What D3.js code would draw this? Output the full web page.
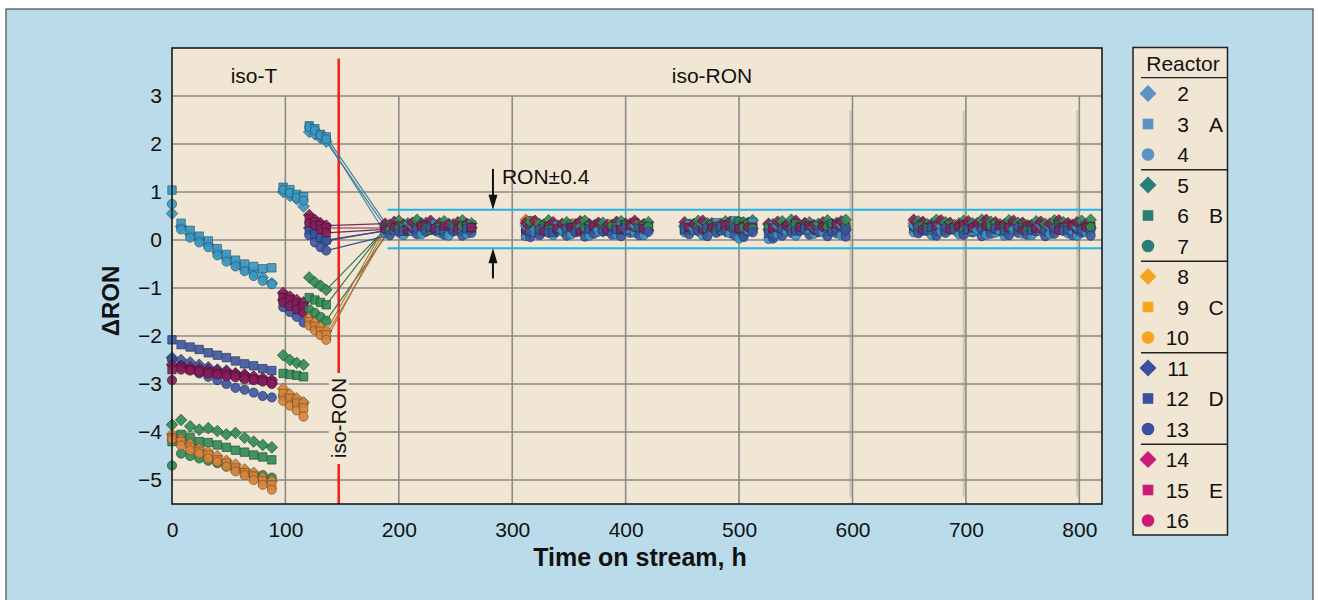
<!DOCTYPE html>
<html><head><meta charset="utf-8">
<script src="https://cdn.jsdelivr.net/npm/d3@7"></script>
<style>html,body{margin:0;padding:0;background:#fff;} svg{display:block;font-family:"Liberation Sans",Arial,Helvetica,sans-serif;}</style>
</head><body><svg id="c" width="1319" height="600"></svg>
<script>
// ---------------- DATA ----------------
const reactors = ["2","3","4","5","6","7","8","9","10","11","12","13","14","15","16"];
const groupOf  = ["A","A","A","B","B","B","C","C","C","D","D","D","E","E","E"];
const shapeOf  = ["diamond","square","circle","diamond","square","circle","diamond","square","circle","diamond","square","circle","diamond","square","circle"];
const scheduleOf = [0,1,0,1,0,1,0,1,0,1,0,1,0,1,0];   // which iso-RON sampling schedule each reactor used
const groups = ["A","B","C","D","E"];
const xTicks = [0,100,200,300,400,500,600,700,800];
const yTicks = [-5,-4,-3,-2,-1,0,1,2,3];
const xDomain = [0,820];
const yDomain = [-5.5,4];
const switchTime = 147;          // iso-T -> iso-RON
const ronBand = [-0.17, 0.63];   // RON ±0.4 band
const bandStart = 190;
const arrowTime = 283;
const upperArrow = [1.48, 0.63];
const lowerArrow = [-0.8, -0.17];

// iso-T period sampling times (h)
const tIsoT = [0,8,16,24,32,40,48,56,64,72,80,88, 98,104,110,116, 121,126,131,136];
// iso-RON period sampling times (h), two schedules, by campaign block
const tRonA = [
  [188,196,204,212,220,228,236,244,252,260],
  [312,320,328,336,344,352,360,368,376,384,392,400,408,416],
  [452,460,468,476,484,492,500,508],
  [526,534,542,550,558,566,574,582,590],
  [654,662,670,678,686,694,702,710,718,726,734,742,750,758,766,774,782,790,798,806]
];
const tRonB = [
  [192,200,208,216,224,232,240,248,256,264],
  [316,324,332,340,348,356,364,372,380,388,396,404,412,420],
  [456,464,472,480,488,496,504,512],
  [530,538,546,554,562,570,578,586,594],
  [658,666,674,682,690,698,706,714,722,730,738,746,754,762,770,778,786,794,802,810]
];

// ΔRON during iso-T
const r2T  = [0.55,0.28,0.12,0.02,-0.10,-0.25,-0.38,-0.50,-0.60,-0.68,-0.78,-0.90, 1.00,0.92,0.85,0.70, 2.25,2.20,2.12,2.05];
const r3T  = [1.04,0.35,0.20,0.08,-0.02,-0.18,-0.30,-0.42,-0.50,-0.55,-0.60,-0.58, 1.10,1.05,0.95,0.90, 2.38,2.32,2.20,2.15];
const r4T  = [0.75,0.22,0.05,-0.05,-0.15,-0.32,-0.45,-0.55,-0.65,-0.75,-0.85,-0.92, 1.05,0.98,0.88,0.82, 2.35,2.28,2.18,2.10];
const r5T  = [-3.85,-3.75,-3.88,-3.95,-3.92,-3.98,-4.05,-4.02,-4.12,-4.20,-4.27,-4.32, -2.40,-2.50,-2.56,-2.60, -0.78,-0.88,-0.95,-1.04];
const r6T  = [-4.20,-4.05,-4.12,-4.20,-4.22,-4.27,-4.32,-4.38,-4.42,-4.48,-4.52,-4.58, -2.78,-2.80,-2.82,-2.85, -1.20,-1.25,-1.30,-1.35];
const r7T  = [-4.70,-4.45,-4.50,-4.55,-4.60,-4.65,-4.72,-4.78,-4.82,-4.88,-4.90,-4.95, -3.25,-3.30,-3.35,-3.40, -1.45,-1.52,-1.60,-1.68];
const r8T  = [-4.05,-4.15,-4.25,-4.35,-4.42,-4.50,-4.60,-4.68,-4.78,-4.85,-4.95,-5.02, -3.10,-3.22,-3.30,-3.38, -1.62,-1.72,-1.82,-1.90];
const r9T  = [-4.12,-4.20,-4.32,-4.40,-4.48,-4.58,-4.65,-4.75,-4.85,-4.92,-5.02,-5.10, -3.20,-3.30,-3.40,-3.50, -1.70,-1.80,-1.90,-1.98];
const r10T = [-4.15,-4.28,-4.38,-4.45,-4.55,-4.62,-4.72,-4.82,-4.90,-5.00,-5.10,-5.20, -3.35,-3.45,-3.55,-3.68, -1.78,-1.88,-1.98,-2.08];
const r11T = [-2.45,-2.50,-2.55,-2.60,-2.65,-2.70,-2.72,-2.78,-2.82,-2.88,-2.92,-2.98, -1.25,-1.35,-1.42,-1.50, 0.25,0.15,0.05,-0.02];
const r12T = [-2.08,-2.18,-2.23,-2.28,-2.35,-2.40,-2.45,-2.52,-2.58,-2.62,-2.68,-2.72, -1.15,-1.22,-1.30,-1.38, 0.20,0.12,0.05,0.00];
const r13T = [-2.50,-2.62,-2.70,-2.78,-2.85,-2.92,-3.00,-3.08,-3.12,-3.18,-3.25,-3.28, -1.40,-1.50,-1.60,-1.72, 0.10,-0.05,-0.15,-0.22];
const r14T = [-2.60,-2.62,-2.65,-2.68,-2.70,-2.72,-2.75,-2.78,-2.80,-2.84,-2.88,-2.92, -1.10,-1.18,-1.25,-1.30, 0.52,0.42,0.35,0.30];
const r15T = [-2.70,-2.65,-2.70,-2.72,-2.75,-2.78,-2.80,-2.82,-2.86,-2.90,-2.92,-2.95, -1.20,-1.25,-1.32,-1.38, 0.45,0.38,0.30,0.25];
const r16T = [-2.92,-2.70,-2.72,-2.75,-2.78,-2.80,-2.84,-2.86,-2.90,-2.92,-2.95,-3.00, -1.30,-1.38,-1.45,-1.52, 0.35,0.30,0.22,0.15];

// ΔRON during iso-RON
const r2R = [[0.28,0.32,0.24,0.30,0.35,0.27,0.22,0.31,0.26,0.29],
 [0.30,0.22,0.18,0.26,0.20,0.30,0.24,0.28,0.21,0.32,0.25,0.22,0.30,0.27],
 [0.28,0.25,0.34,0.30,0.22,0.36,0.38,0.28],
 [0.22,0.30,0.26,0.31,0.35,0.27,0.30,0.24,0.32],
 [0.30,0.34,0.26,0.29,0.23,0.31,0.27,0.21,0.29,0.26,0.31,0.23,0.28,0.25,0.31,0.27,0.23,0.29,0.26,0.33]];
const r3R = [[0.22,0.26,0.30,0.21,0.27,0.33,0.24,0.28,0.20,0.26],
 [0.26,0.14,0.24,0.30,0.17,0.25,0.20,0.31,0.26,0.19,0.29,0.23,0.18,0.24],
 [0.32,0.28,0.24,0.36,0.30,0.40,0.26,0.37],
 [0.30,0.24,0.20,0.27,0.22,0.32,0.25,0.28,0.21],
 [0.26,0.22,0.30,0.20,0.27,0.24,0.18,0.26,0.22,0.20,0.25,0.19,0.24,0.28,0.21,0.23,0.27,0.20,0.24,0.22]];
const r4R = [[0.14,0.22,0.10,0.18,0.12,0.24,0.15,0.09,0.20,0.13],
 [0.08,0.16,0.22,0.10,0.18,0.12,0.24,0.09,0.17,0.21,0.11,0.23,0.15,0.10],
 [0.16,0.22,0.10,0.19,0.24,0.14,0.03,0.20],
 [0.02,0.12,0.18,0.09,0.21,0.13,0.16,0.22,0.10],
 [0.16,0.21,0.10,0.18,0.23,0.12,0.17,0.22,0.11,0.15,0.09,0.20,0.13,0.10,0.18,0.12,0.21,0.14,0.09,0.17]];
const r5R = [[0.32,0.40,0.35,0.42,0.36,0.30,0.39,0.33,0.41,0.35],
 [0.38,0.33,0.41,0.30,0.37,0.32,0.40,0.29,0.36,0.31,0.39,0.34,0.30,0.37],
 [0.32,0.40,0.35,0.30,0.39,0.33,0.37,0.41],
 [0.33,0.39,0.42,0.30,0.37,0.34,0.41,0.36,0.42],
 [0.39,0.33,0.42,0.37,0.31,0.40,0.35,0.42,0.38,0.33,0.41,0.36,0.31,0.39,0.34,0.41,0.37,0.32,0.40,0.42]];
const r6R = [[0.24,0.20,0.27,0.23,0.29,0.21,0.26,0.31,0.23,0.28],
 [0.20,0.26,0.30,0.22,0.28,0.33,0.25,0.29,0.34,0.23,0.27,0.31,0.36,0.28],
 [0.24,0.21,0.28,0.32,0.26,0.23,0.38,0.33],
 [0.26,0.21,0.29,0.33,0.25,0.30,0.27,0.34,0.36],
 [0.24,0.29,0.21,0.27,0.32,0.24,0.22,0.30,0.26,0.33,0.23,0.28,0.31,0.22,0.27,0.24,0.30,0.25,0.29,0.23]];
const r7R = [[0.20,0.24,0.18,0.26,0.22,0.28,0.19,0.24,0.29,0.22],
 [0.18,0.24,0.20,0.28,0.22,0.17,0.26,0.21,0.25,0.30,0.20,0.26,0.22,0.28],
 [0.20,0.27,0.23,0.19,0.28,0.22,0.26,0.24],
 [0.18,0.25,0.21,0.27,0.19,0.24,0.28,0.22,0.26],
 [0.20,0.25,0.29,0.22,0.26,0.19,0.27,0.23,0.30,0.21,0.26,0.22,0.19,0.27,0.23,0.29,0.20,0.25,0.22,0.27]];
const r8R = [[0.30,0.26,0.33,0.29,0.24,0.31,0.27,0.34,0.28,0.25],
 [0.42,0.36,0.30,0.34,0.27,0.32,0.29,0.24,0.31,0.28,0.34,0.26,0.30,0.33],
 [0.30,0.26,0.32,0.28,0.34,0.25,0.30,0.27],
 [0.32,0.27,0.30,0.25,0.33,0.29,0.26,0.31,0.28],
 [0.36,0.31,0.27,0.33,0.29,0.35,0.26,0.32,0.28,0.34,0.30,0.26,0.33,0.29,0.25,0.32,0.28,0.34,0.30,0.27]];
const r9R = [[0.27,0.31,0.25,0.29,0.33,0.26,0.30,0.24,0.28,0.32],
 [0.40,0.33,0.28,0.25,0.31,0.35,0.27,0.30,0.26,0.33,0.29,0.25,0.31,0.28],
 [0.34,0.29,0.26,0.31,0.27,0.33,0.29,0.25],
 [0.29,0.33,0.26,0.30,0.27,0.32,0.29,0.25,0.30],
 [0.30,0.26,0.33,0.28,0.31,0.25,0.29,0.34,0.27,0.31,0.24,0.28,0.32,0.26,0.30,0.35,0.27,0.31,0.26,0.29]];
const r10R = [[0.23,0.27,0.21,0.26,0.30,0.24,0.28,0.22,0.26,0.29],
 [0.36,0.28,0.24,0.30,0.22,0.27,0.31,0.24,0.28,0.22,0.26,0.30,0.25,0.23],
 [0.27,0.23,0.30,0.25,0.29,0.22,0.27,0.31],
 [0.24,0.28,0.22,0.27,0.31,0.25,0.23,0.28,0.26],
 [0.27,0.23,0.30,0.25,0.21,0.28,0.24,0.31,0.26,0.22,0.29,0.25,0.28,0.23,0.27,0.30,0.24,0.22,0.28,0.25]];
const r11R = [[0.21,0.25,0.30,0.23,0.27,0.20,0.24,0.28,0.22,0.26],
 [0.16,0.22,0.27,0.19,0.25,0.30,0.21,0.26,0.18,0.24,0.29,0.22,0.26,0.20],
 [0.25,0.20,0.28,0.23,0.18,0.27,0.10,0.24],
 [0.10,0.22,0.27,0.20,0.25,0.18,0.29,0.23,0.21],
 [0.29,0.24,0.20,0.27,0.23,0.18,0.26,0.22,0.28,0.20,0.24,0.27,0.21,0.25,0.19,0.26,0.23,0.28,0.21,0.25]];
const r12R = [[0.19,0.23,0.18,0.25,0.21,0.27,0.20,0.24,0.19,0.23],
 [0.10,0.18,0.23,0.16,0.21,0.26,0.19,0.23,0.28,0.18,0.22,0.25,0.19,0.24],
 [0.21,0.26,0.19,0.24,0.28,0.20,0.23,0.18],
 [0.14,0.20,0.25,0.19,0.23,0.27,0.21,0.18,0.24],
 [0.23,0.19,0.26,0.21,0.24,0.18,0.22,0.27,0.20,0.24,0.19,0.23,0.26,0.20,0.22,0.18,0.25,0.21,0.19,0.23]];
const r13R = [[0.10,0.16,0.20,0.12,0.17,0.22,0.11,0.18,0.09,0.15],
 [0.06,0.10,0.15,0.20,0.09,0.16,0.07,0.13,0.19,0.11,0.08,0.15,0.10,0.17],
 [0.12,0.18,0.08,0.15,0.20,0.10,0.06,0.16],
 [0.03,0.09,0.15,0.20,0.11,0.17,0.08,0.14,0.07],
 [0.14,0.19,0.09,0.15,0.21,0.11,0.16,0.08,0.13,0.20,0.10,0.15,0.11,0.18,0.08,0.13,0.19,0.10,0.15,0.09]];
const r14R = [[0.34,0.38,0.31,0.36,0.33,0.40,0.35,0.32,0.37,0.34],
 [0.36,0.40,0.32,0.37,0.34,0.30,0.39,0.33,0.36,0.31,0.38,0.34,0.40,0.32],
 [0.37,0.33,0.40,0.35,0.31,0.38,0.34,0.36],
 [0.34,0.38,0.32,0.40,0.35,0.31,0.37,0.33,0.39],
 [0.42,0.38,0.34,0.41,0.36,0.32,0.39,0.35,0.42,0.37,0.33,0.40,0.36,0.31,0.38,0.34,0.41,0.35,0.37,0.33]];
const r15R = [[0.25,0.29,0.22,0.27,0.31,0.24,0.28,0.23,0.30,0.26],
 [0.24,0.20,0.28,0.23,0.30,0.26,0.21,0.29,0.24,0.27,0.22,0.30,0.25,0.28],
 [0.26,0.30,0.23,0.28,0.32,0.25,0.29,0.27],
 [0.25,0.29,0.22,0.27,0.30,0.24,0.28,0.32,0.26],
 [0.31,0.26,0.29,0.23,0.27,0.32,0.25,0.28,0.24,0.30,0.26,0.22,0.29,0.25,0.31,0.24,0.27,0.30,0.23,0.28]];
const r16R = [[0.22,0.26,0.20,0.24,0.28,0.21,0.25,0.29,0.23,0.27],
 [0.20,0.24,0.19,0.27,0.22,0.26,0.18,0.24,0.28,0.21,0.25,0.20,0.27,0.23],
 [0.23,0.27,0.21,0.25,0.20,0.28,0.24,0.26],
 [0.20,0.25,0.29,0.22,0.26,0.21,0.27,0.24,0.28],
 [0.27,0.22,0.26,0.30,0.23,0.27,0.21,0.25,0.29,0.22,0.26,0.24,0.20,0.27,0.23,0.28,0.21,0.25,0.22,0.26]];

const isoTValues = [r2T,r3T,r4T,r5T,r6T,r7T,r8T,r9T,r10T,r11T,r12T,r13T,r14T,r15T,r16T];
const isoRonValues = [r2R,r3R,r4R,r5R,r6R,r7R,r8R,r9R,r10R,r11R,r12R,r13R,r14R,r15R,r16R];
const schedules = [tRonA, tRonB];

// ---------------- STYLE ----------------
const plotColor   = {A:"#3a97c2", B:"#2d8a55", C:"#d6843c", D:"#3b56a2", E:"#861d5a"};
const legendColor = {A:"#5b93c3", B:"#2a7e79", C:"#f7a51f", D:"#3a4fa0", E:"#cb1a78"};
const bg = "#f1e6d3";
const FONT = '"Liberation Sans", Arial, Helvetica, sans-serif';

const svg = d3.select("#c");
svg.append("rect").attr("x",6).attr("y",9).attr("width",1307).attr("height",600)
  .attr("fill","#b9dbea").attr("stroke","#4a4a4a").attr("stroke-width",1.2);

const P = {l:172, t:48, r:1102, b:504};
const x = d3.scaleLinear().domain(xDomain).range([P.l,P.r]);
const y = d3.scaleLinear().domain(yDomain).range([P.b,P.t]);

svg.append("rect").attr("x",P.l).attr("y",P.t).attr("width",P.r-P.l).attr("height",P.b-P.t).attr("fill",bg);

// faint scan shadows beside the right-most grid lines
const gShadow = svg.append("g");
[600,700,800].forEach(v=>{
  gShadow.append("line").attr("x1",x(v)-2).attr("x2",x(v)-2).attr("y1",y(2.7)).attr("y2",y(-5.35))
    .attr("stroke","#cfc8bb").attr("stroke-width",2.5);
});

// grid
const grid = svg.append("g").attr("stroke","#8a8a8a").attr("stroke-width",1.6);
yTicks.forEach(v=>grid.append("line").attr("x1",P.l).attr("x2",P.r).attr("y1",y(v)).attr("y2",y(v)));
xTicks.filter(v=>v>0).forEach(v=>grid.append("line").attr("x1",x(v)).attr("x2",x(v)).attr("y1",y(d3.max(yTicks))).attr("y2",P.b));

// RON band lines
ronBand.forEach(v=>svg.append("line").attr("x1",x(bandStart)).attr("x2",P.r).attr("y1",y(v)).attr("y2",y(v))
  .attr("stroke","#22b3e8").attr("stroke-width",2));

// red switch line with gap for label
svg.append("line").attr("x1",x(switchTime)).attr("x2",x(switchTime)).attr("y1",y(3.78)).attr("y2",P.b)
  .attr("stroke","#ee2424").attr("stroke-width",2.6);
svg.append("rect").attr("x",x(switchTime)-10).attr("y",373).attr("width",20).attr("height",91).attr("fill",bg);
svg.append("text").attr("transform",`translate(${x(switchTime)+7},418) rotate(-90)`)
  .attr("text-anchor","middle").attr("font-size",21).attr("fill","#111").attr("font-family",FONT).text("iso-RON");

// series
function symPath(shape, s){
  if(shape==="diamond") return `M0,${-s}L${s},0L0,${s}L${-s},0Z`;
  if(shape==="square") return `M${-s},${-s}H${s}V${s}H${-s}Z`;
  return `M${s},0A${s},${s} 0 1,1 ${-s},0A${s},${s} 0 1,1 ${s},0Z`;
}
const plotSize = {diamond:5.8, square:4.2, circle:4.6};
const legSize = {diamond:8.5, square:5.3, circle:6.3};

const series = reactors.map((r,i)=>({
  name:r, group:groupOf[i], shape:shapeOf[i], idx:i,
  isoT: tIsoT.map((t,j)=>({t, v:isoTValues[i][j]})),
  ron: schedules[scheduleOf[i]].flatMap((blk,b)=>blk.map((t,j)=>({t, v:isoRonValues[i][b][j]})))
}));

// transition lines (last iso-T point -> first iso-RON point)
const gl = svg.append("g");
series.forEach(s=>{
  const a = s.isoT[s.isoT.length-1], c = s.ron[0];
  gl.append("line").attr("x1",x(a.t)).attr("y1",y(a.v)).attr("x2",x(c.t)).attr("y2",y(c.v))
    .attr("stroke",d3.color(plotColor[s.group]).darker(0.6)).attr("stroke-width",1.2).attr("opacity",0.9);
});

// markers (draw order rotates between reactors so no single one always sits on top)
const pts = [];
series.forEach(s=>{
  s.isoT.forEach((p,j)=>pts.push({s, p, ord: j*100 + s.idx}));
  s.ron.forEach((p,k)=>{
    const prio = s.group==="C" ? 0 : 1 + ((s.idx*5 + k*4) % 15);
    pts.push({s, p, ord: 100000 + p.t*100 + prio});
  });
});
pts.sort((a,b)=>a.ord-b.ord);
svg.append("g").selectAll("path").data(pts).join("path")
  .attr("transform",d=>`translate(${x(d.p.t)},${y(d.p.v)})`)
  .attr("d",d=>symPath(d.s.shape, plotSize[d.s.shape]))
  .attr("fill",d=>plotColor[d.s.group]).attr("fill-opacity",0.9)
  .attr("stroke",d=>d3.color(plotColor[d.s.group]).darker(1.6)).attr("stroke-width",0.9).attr("stroke-opacity",0.75);

// plot border
svg.append("rect").attr("x",P.l).attr("y",P.t).attr("width",P.r-P.l).attr("height",P.b-P.t)
  .attr("fill","none").attr("stroke","#1a1a1a").attr("stroke-width",1.6);

// arrows
function arrow(t, v0, v1){
  const x0 = x(t), y0 = y(v0), y1 = y(v1), dir = Math.sign(y1-y0);
  svg.append("line").attr("x1",x0).attr("x2",x0).attr("y1",y0).attr("y2",y1-dir*10)
    .attr("stroke","#111").attr("stroke-width",2);
  svg.append("path").attr("d",`M${x0},${y1}L${x0-4.5},${y1-dir*15}L${x0+4.5},${y1-dir*15}Z`).attr("fill","#111");
}
arrow(arrowTime, upperArrow[0], upperArrow[1]);
arrow(arrowTime, lowerArrow[0], lowerArrow[1]);
svg.append("text").attr("x",x(arrowTime)+9).attr("y",184).attr("font-size",21).attr("font-family",FONT).attr("fill","#111").text("RON±0.4");

// phase headers
svg.append("text").attr("x",254).attr("y",83).attr("text-anchor","middle").attr("font-size",21).attr("font-family",FONT).attr("fill","#111").text("iso-T");
svg.append("text").attr("x",712).attr("y",83).attr("text-anchor","middle").attr("font-size",21).attr("font-family",FONT).attr("fill","#111").text("iso-RON");

// axes
const ax = svg.append("g").attr("transform",`translate(${P.l},0)`)
  .call(d3.axisLeft(y).tickValues(yTicks).tickSize(0).tickPadding(10).tickFormat(d3.format("d")));
ax.select(".domain").remove();
ax.selectAll("text").attr("font-size",21).attr("font-family",FONT).attr("fill","#111");
const bx = svg.append("g").attr("transform",`translate(0,${P.b})`)
  .call(d3.axisBottom(x).tickValues(xTicks).tickSize(0).tickPadding(18).tickFormat(d3.format("d")));
bx.select(".domain").remove();
bx.selectAll("text").attr("font-size",21).attr("font-family",FONT).attr("fill","#111");

svg.append("text").attr("x",640).attr("y",566).attr("text-anchor","middle").attr("font-size",25).attr("font-weight","bold")
  .attr("font-family",FONT).attr("fill","#111").text("Time on stream, h");
svg.append("text").attr("transform","translate(119,301) rotate(-90)").attr("text-anchor","middle").attr("font-size",24)
  .attr("font-weight","bold").attr("font-family",FONT).attr("fill","#111").text("ΔRON");

// legend
const L = {x:1133, y:47.5, w:94.5, h:487.5, row0:93.5, dy:30.5};
const lg = svg.append("g");
lg.append("rect").attr("x",L.x).attr("y",L.y).attr("width",L.w).attr("height",L.h).attr("fill",bg).attr("stroke","#222").attr("stroke-width",1.5);
lg.append("text").attr("x",1183).attr("y",70.5).attr("text-anchor","middle").attr("font-size",21).attr("font-family",FONT).attr("fill","#111").text("Reactor");
lg.append("line").attr("x1",1141).attr("x2",L.x+L.w).attr("y1",77.7).attr("y2",77.7).attr("stroke","#222").attr("stroke-width",1.3);
series.forEach((s,i)=>{
  const ry = L.row0 + L.dy*i;
  lg.append("path").attr("transform",`translate(1148,${ry})`).attr("d",symPath(s.shape, legSize[s.shape])).attr("fill",legendColor[s.group]);
  lg.append("text").attr("x",1189).attr("y",ry+7.5).attr("text-anchor","end").attr("font-size",21).attr("font-family",FONT).attr("fill","#111").text(s.name);
});
groups.forEach((g,k)=>{
  const ry = L.row0 + L.dy*(k*3+1);
  lg.append("text").attr("x",1216).attr("y",ry+7.5).attr("text-anchor","middle").attr("font-size",21).attr("font-family",FONT).attr("fill","#111").text(g);
  if(k<groups.length-1){
    const sy = L.row0 + L.dy*(k*3+2.5);
    lg.append("line").attr("x1",1141).attr("x2",L.x+L.w).attr("y1",sy).attr("y2",sy).attr("stroke","#222").attr("stroke-width",1.3);
  }
});
</script></body></html>
